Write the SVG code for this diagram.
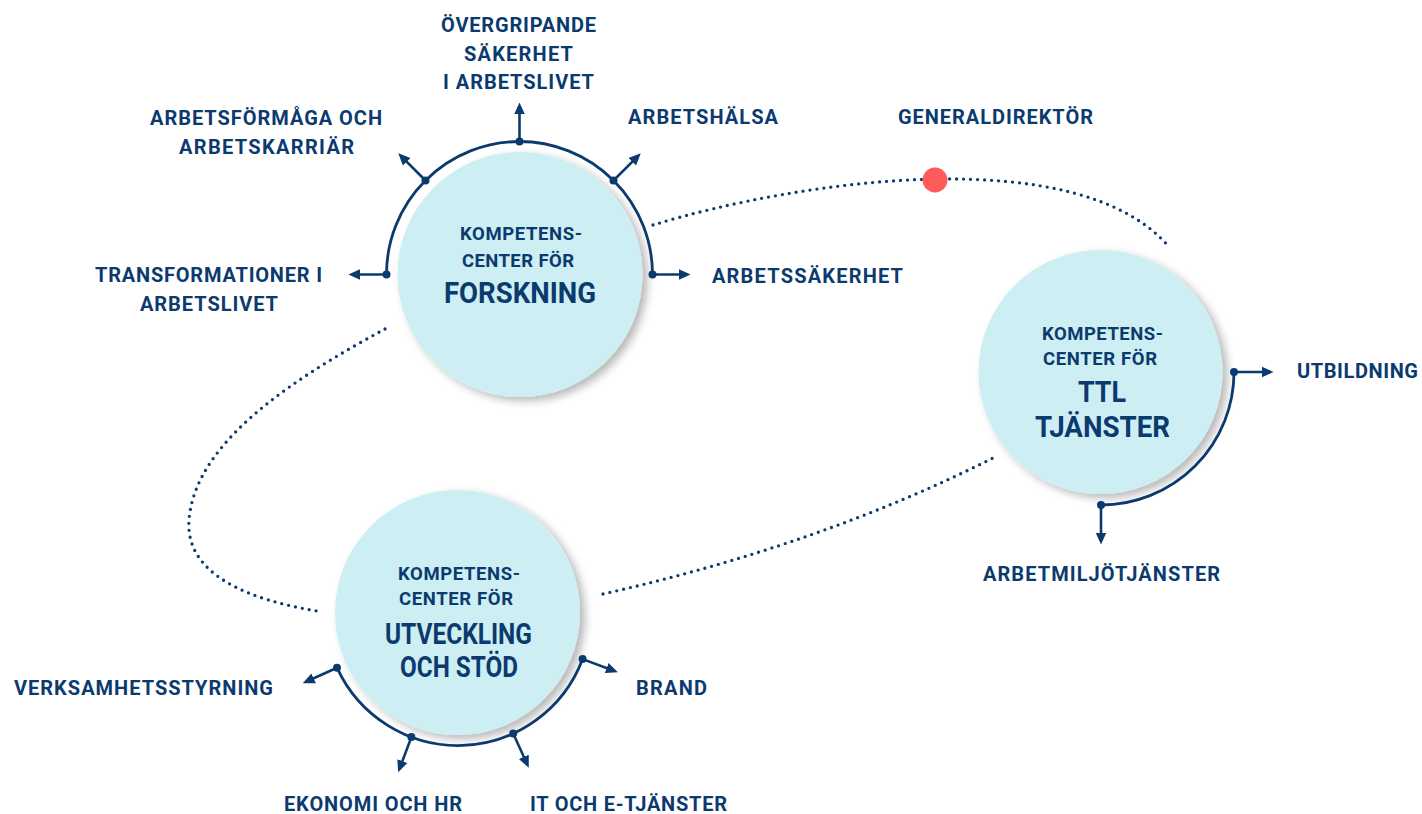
<svg xmlns="http://www.w3.org/2000/svg" width="1422" height="814" viewBox="0 0 1422 814">
  <style>
    .lbl { font-family: Roboto, "Liberation Sans", sans-serif; font-weight: 700; font-size: 20px; fill: #0b3a6f; }
    .sm { font-family: Roboto, "Liberation Sans", sans-serif; font-weight: 700; font-size: 18.5px; fill: #0b3a6f; text-anchor: middle; }
    .big { font-family: Roboto, "Liberation Sans", sans-serif; font-weight: 700; font-size: 29px; fill: #0b3a6f; text-anchor: middle; }
    .mid { text-anchor: middle; }
    .disc { fill: #cdeef3; filter: url(#shade); }
    .ring { fill: none; stroke: #0b3a6f; stroke-width: 2.8; }
    .spoke { fill: none; stroke: #0b3a6f; stroke-width: 2.6; marker-end: url(#head); }
    .knot { fill: #0b3a6f; }
    .dots { fill: none; stroke: #0b3a6f; stroke-width: 3.3; stroke-linecap: round; stroke-dasharray: 0 7; }
  </style>
  <defs>
    <filter id="shade" x="-20%" y="-20%" width="140%" height="140%">
      <feDropShadow dx="5" dy="4" stdDeviation="4" flood-color="#000" flood-opacity="0.28"/>
    </filter>
    <marker id="head" markerUnits="userSpaceOnUse" markerWidth="12" markerHeight="12" viewBox="0 0 10 10" refX="7" refY="5" orient="auto">
      <path d="M0,0.5 L10,5 L0,9.5 z" fill="#0b3a6f"/>
    </marker>
  </defs>
  <rect width="1422" height="814" fill="#ffffff"/>

  <!-- dotted links between the centres -->
  <g id="connectors">
    <path class="dots" d="M653,225 C800,180 1080,140 1170,248"/>
    <path class="dots" d="M385,329 C300,375 195,440 189,520 C185,575 250,600 317,611"/>
    <path class="dots" d="M603,594 Q820,545 993,458"/>
    <circle id="generaldirektor-dot" cx="935" cy="180" r="12.5" fill="#ff5b5b"/>
  </g>

  <!-- research centre -->
  <g id="forskning">
    <circle class="disc" cx="520" cy="274.5" r="122.5"/>
    <path class="ring" d="M386.5,274.5 A133,133 0 0 1 652.5,274.5"/>
    <path class="spoke" d="M386.5,274.5 L352,274.5"/>
    <path class="spoke" d="M425.5,180.5 L400.8,155.8"/>
    <path class="spoke" d="M519.5,141.5 L519.5,106"/>
    <path class="spoke" d="M613.5,180.5 L638.2,155.8"/>
    <path class="spoke" d="M652.5,274.5 L687,274.5"/>
    <circle class="knot" cx="386.5" cy="274.5" r="4"/>
    <circle class="knot" cx="425.5" cy="180.5" r="4"/>
    <circle class="knot" cx="519.5" cy="141.5" r="4"/>
    <circle class="knot" cx="613.5" cy="180.5" r="4"/>
    <circle class="knot" cx="652.5" cy="274.5" r="4"/>
    <text class="sm" x="521" y="240" textLength="122">KOMPETENS-</text>
    <text class="sm" x="518" y="267" textLength="112">CENTER FÖR</text>
    <text class="big" x="520" y="303" textLength="152" lengthAdjust="spacingAndGlyphs">FORSKNING</text>
  </g>
  <g id="forskning-labels">
    <text class="lbl mid" x="518.5" y="32" textLength="155">ÖVERGRIPANDE</text>
    <text class="lbl mid" x="518.5" y="61" textLength="109">SÄKERHET</text>
    <text class="lbl mid" x="518.5" y="89" textLength="151">I ARBETSLIVET</text>
    <text class="lbl mid" x="266" y="125" textLength="232">ARBETSFÖRMÅGA OCH</text>
    <text class="lbl mid" x="266.5" y="154" textLength="175">ARBETSKARRIÄR</text>
    <text class="lbl mid" x="208.5" y="282" textLength="227">TRANSFORMATIONER I</text>
    <text class="lbl mid" x="209" y="311" textLength="138">ARBETSLIVET</text>
    <text class="lbl" x="628" y="124" textLength="150">ARBETSHÄLSA</text>
    <text class="lbl" x="712" y="283" textLength="191">ARBETSSÄKERHET</text>
  </g>

  <g id="generaldirektor">
    <text class="lbl" x="898" y="124" textLength="195">GENERALDIREKTÖR</text>
  </g>

  <!-- services centre -->
  <g id="ttl-tjanster">
    <circle class="disc" cx="1100.5" cy="372" r="122"/>
    <path class="ring" d="M1234,372 A133,133 0 0 1 1101,505"/>
    <path class="spoke" d="M1234,372 L1270,372"/>
    <path class="spoke" d="M1101,505 L1101,541"/>
    <circle class="knot" cx="1234" cy="372" r="4"/>
    <circle class="knot" cx="1101" cy="505" r="4"/>
    <text class="sm" x="1102.5" y="340" textLength="121">KOMPETENS-</text>
    <text class="sm" x="1100" y="365" textLength="114">CENTER FÖR</text>
    <text class="big" x="1102" y="402" textLength="48" lengthAdjust="spacingAndGlyphs">TTL</text>
    <text class="big" x="1102.5" y="437" textLength="135" lengthAdjust="spacingAndGlyphs">TJÄNSTER</text>
    <text class="lbl" x="1297" y="378" textLength="121">UTBILDNING</text>
    <text class="lbl" x="983" y="581" textLength="237">ARBETMILJÖTJÄNSTER</text>
  </g>

  <!-- development and support centre -->
  <g id="utveckling">
    <circle class="disc" cx="457.5" cy="612.5" r="122.5"/>
    <path class="ring" d="M582.6,659.1 A133,133 0 0 1 337,667.7"/>
    <path class="spoke" d="M582.6,659.1 L614.5,671"/>
    <path class="spoke" d="M513.2,733.5 L527.3,764.5"/>
    <path class="spoke" d="M411.4,737.1 L399.4,769"/>
    <path class="spoke" d="M337,667.7 L306,681.8"/>
    <circle class="knot" cx="582.6" cy="659.1" r="4"/>
    <circle class="knot" cx="513.2" cy="733.5" r="4"/>
    <circle class="knot" cx="411.4" cy="737.1" r="4"/>
    <circle class="knot" cx="337" cy="667.7" r="4"/>
    <text class="sm" x="459" y="580" textLength="122">KOMPETENS-</text>
    <text class="sm" x="456" y="605" textLength="114">CENTER FÖR</text>
    <text class="big" x="458.5" y="644" textLength="147" lengthAdjust="spacingAndGlyphs">UTVECKLING</text>
    <text class="big" x="459" y="677" textLength="118" lengthAdjust="spacingAndGlyphs">OCH STÖD</text>
    <text class="lbl" x="14" y="695" textLength="259">VERKSAMHETSSTYRNING</text>
    <text class="lbl" x="636" y="695" textLength="71">BRAND</text>
    <text class="lbl" x="284" y="811" textLength="178">EKONOMI OCH HR</text>
    <text class="lbl" x="530" y="811" textLength="197">IT OCH E-TJÄNSTER</text>
  </g>
</svg>
